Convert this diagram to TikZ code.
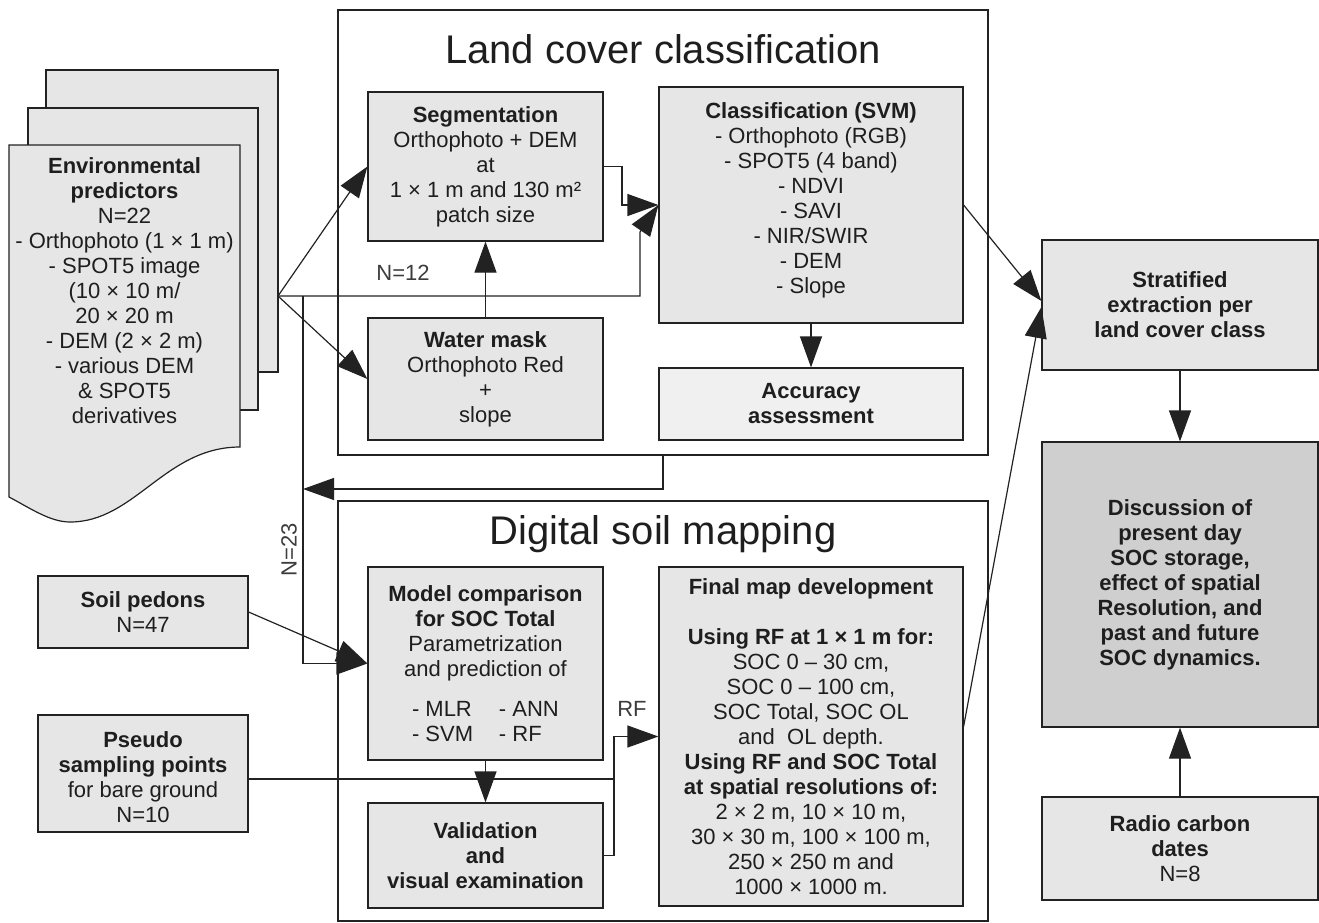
\documentclass[tikz,border=0pt]{standalone}
\usepackage{fontspec}
\setmainfont{Liberation Sans}
\usetikzlibrary{arrows.meta}
\definecolor{txt}{HTML}{1E1E1E}
\definecolor{linec}{HTML}{222222}
\definecolor{boxfill}{HTML}{E6E6E6}
\definecolor{accfill}{HTML}{F0F0F0}
\definecolor{discfill}{HTML}{CFCFCF}
\definecolor{lblc}{HTML}{3C3C3C}
\newcommand\boxfont{\fontsize{22}{25}\selectfont}
\newcommand\titlefont{\fontsize{40}{48}\selectfont}
\begin{document}
\begin{tikzpicture}[x=1pt,y=-1pt,
  box/.style={draw=linec, line width=1.2pt, fill=boxfill, align=center, inner sep=0pt, text=txt, font=\boxfont},
  group/.style={draw=linec, line width=1.2pt, inner sep=0pt},
  arr/.style={draw=linec, line width=1.2pt, -{Triangle[length=31pt,width=22pt]}},
  ln/.style={draw=linec, line width=1.2pt},
  lbl/.style={text=lblc, font=\boxfont, inner sep=0pt},
  sheet/.style={draw=linec, line width=1.2pt, fill=boxfill},
]
\useasboundingbox (0,0) rectangle (1319,922);

% group boxes
\node[group, minimum width=650pt, minimum height=445pt] (lcc) at (663,232.5) {};
\node[group, minimum width=650pt, minimum height=420pt] (dsm) at (663,711) {};
\node[anchor=base, text=txt, font=\titlefont, inner sep=0pt] (lcct) at (663,63) {Land cover classification};
\node[anchor=base, text=txt, font=\titlefont, inner sep=0pt] (dsmt) at (663,544) {Digital soil mapping};

% environmental predictors document stack
\path[sheet] (46,70) rectangle (278,372);
\path[sheet] (28,108) rectangle (258,410);
\path[sheet] (9,145) -- (240,145) -- (240,447)
  .. controls (165,447) and (135,522) .. (70,522)
  .. controls (50,522) and (30,508) .. (9,497) -- cycle;
\node[align=center, text=txt, font=\boxfont, inner sep=0pt] (env) at (124.5,291)
  {\textbf{Environmental}\\\textbf{predictors}\\N=22\\- Orthophoto (1 × 1 m)\\- SPOT5 image\\(10 × 10 m/\\20 × 20 m\\- DEM (2 × 2 m)\\- various DEM\\\& SPOT5\\derivatives};

% land cover boxes
\node[box, minimum width=235pt, minimum height=149pt] (seg) at (485.5,166.5)
  {\textbf{Segmentation}\\Orthophoto + DEM\\at\\1 × 1 m and 130 m²\\patch size};
\node[box, minimum width=235pt, minimum height=122pt] (wm) at (485.5,379)
  {\textbf{Water mask}\\Orthophoto Red\\+\\slope};
\node[box, minimum width=304pt, minimum height=236pt] (cls) at (811,205) {};
\node[align=center, text=txt, font=\boxfont, inner sep=0pt] (clst) at (811,200)
  {\textbf{Classification (SVM)}\\- Orthophoto (RGB)\\- SPOT5 (4 band)\\- NDVI\\- SAVI\\- NIR/SWIR\\- DEM\\- Slope};
\node[box, fill=accfill, minimum width=304pt, minimum height=72pt] (acc) at (811,404)
  {\textbf{Accuracy}\\\textbf{assessment}};

% left inputs
\node[box, minimum width=210pt, minimum height=72pt] (sp) at (143,612)
  {\textbf{Soil pedons}\\N=47};
\node[box, minimum width=210pt, minimum height=117pt] (ps) at (143,773.5) {};
\node[align=center, text=txt, font=\boxfont, inner sep=0pt] (pst) at (143,777)
  {\textbf{Pseudo}\\\textbf{sampling points}\\for bare ground\\N=10};

% digital soil mapping boxes
\node[box, minimum width=235pt, minimum height=193pt] (mc) at (485.5,663.5)
  {\textbf{Model comparison}\\\textbf{for SOC Total}\\Parametrization\\and prediction of\\[15pt]\makebox[87pt][l]{- MLR}\makebox[60pt][l]{- ANN}\\\makebox[87pt][l]{- SVM}\makebox[60pt][l]{- RF}};
\node[box, minimum width=235pt, minimum height=105pt] (val) at (485.5,855.5)
  {\textbf{Validation}\\\textbf{and}\\\textbf{visual examination}};
\node[box, minimum width=304pt, minimum height=339pt] (fm) at (811,736.5)
  {\textbf{Final map development}\\[25pt]\textbf{Using RF at 1 × 1 m for:}\\SOC 0 – 30 cm,\\SOC 0 – 100 cm,\\SOC Total, SOC OL\\and~ OL depth.\\\textbf{Using RF and SOC Total}\\\textbf{at spatial resolutions of:}\\2 × 2 m, 10 × 10 m,\\30 × 30 m, 100 × 100 m,\\250 × 250 m and\\1000 × 1000 m.};

% right column
\node[box, minimum width=276pt, minimum height=130pt] (str) at (1180,305)
  {\textbf{Stratified}\\\textbf{extraction per}\\\textbf{land cover class}};
\node[box, fill=discfill, minimum width=276pt, minimum height=285pt] (disc) at (1180,584.5)
  {\textbf{Discussion of}\\\textbf{present day}\\\textbf{SOC storage,}\\\textbf{effect of spatial}\\\textbf{Resolution, and}\\\textbf{past and future}\\\textbf{SOC dynamics.}};
\node[box, minimum width=276pt, minimum height=103pt] (rc) at (1180,848.5)
  {\textbf{Radio carbon}\\\textbf{dates}\\N=8};

% connectors
\coordinate (J) at (278,296);
\coordinate (K) at (303,296);
\draw[arr] (J) -- (seg.west);
\draw[arr] (J) -- (wm.west);
\draw[arr] (J) -- (640,296) -- (640,232) -- (cls.west);
\draw[arr] (seg.east) -- (622,166.5) -- (622,205) -- (cls.west);
\draw[arr] (wm.north) -- (seg.south);
\draw[arr] (cls.south) -- (acc.north);
\draw[arr] (K) |- (mc.west);
\draw[arr] (sp.east) -- (mc.west);
\coordinate (F) at (663,455);
\draw[arr] (F) -- (663,489) -- (303,489);
\draw[arr] (mc.south) -- (val.north);
\draw[ln] (ps.east |- 0,779) -- (614,779);
\draw[arr] (val.east) -- (614,855.5) -- (614,736.5) -- (fm.west);
\draw[arr] (cls.east) -- ([yshift=4pt]str.west);
\draw[arr] ([yshift=10pt]fm.east) -- ([yshift=-2pt]str.west);
\draw[arr] (str.south) -- (disc.north);
\draw[arr] (rc.north) -- (disc.south);

% labels
\node[lbl, anchor=base] (n12) at (403,280) {N=12};
\node[lbl, anchor=base] (rf) at (632,716) {RF};
\node[lbl, rotate=90] (n23) at (289,550) {N=23};
\end{tikzpicture}
\end{document}
